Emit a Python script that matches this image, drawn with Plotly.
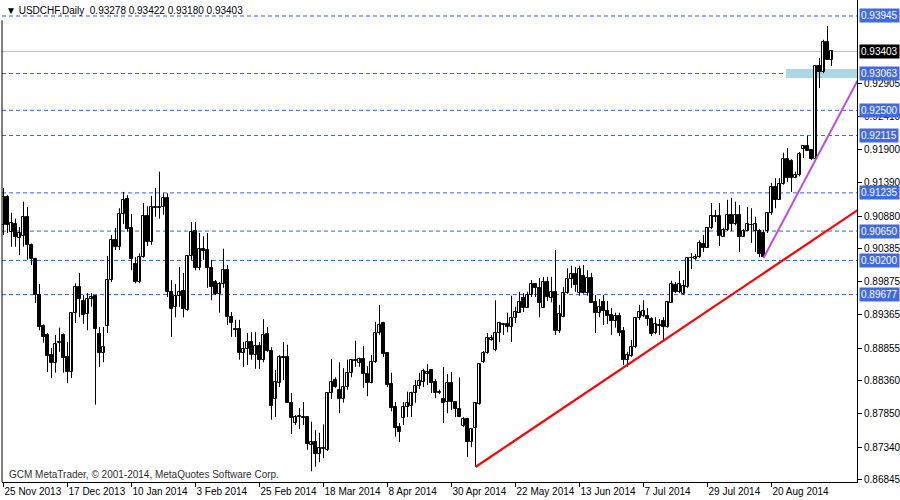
import plotly.graph_objects as go

# ---------------- data (USDCHF daily) ----------------
open_prices = [
 0.9074,0.9117,0.9064,0.9076,0.9054,0.9057,0.9087,0.9044,0.9022,0.8967,
 0.8920,0.8906,0.8875,0.8863,0.8894,0.8906,0.8872,0.8849,0.8939,0.8979,
 0.8958,0.8938,0.8961,0.8966,0.8907,0.8878,0.8920,0.8990,0.9051,0.9041,
 0.9091,0.9114,0.9070,0.9015,0.8987,0.9025,0.9088,0.9048,0.9100,0.9100,
 0.9102,0.9116,0.8972,0.8949,0.8966,0.8973,0.8944,0.9027,0.9065,0.9008,
 0.9038,0.9036,0.9008,0.8987,0.8969,0.8984,0.9005,0.8933,0.8915,0.8915,
 0.8878,0.8884,0.8895,0.8875,0.8889,0.8868,0.8907,0.8881,0.8808,0.8832,
 0.8872,0.8872,0.8802,0.8771,0.8780,0.8780,0.8780,0.8737,0.8742,0.8724,
 0.8733,0.8730,0.8817,0.8837,0.8822,0.8808,0.8826,0.8848,0.8866,0.8863,
 0.8869,0.8846,0.8832,0.8864,0.8909,0.8924,0.8878,0.8831,0.8796,0.8765,
 0.8779,0.8796,0.8797,0.8817,0.8828,0.8834,0.8846,0.8852,0.8834,0.8817,
 0.8808,0.8803,0.8832,0.8803,0.8792,0.8766,0.8777,0.8742,0.8763,0.8800,
 0.8864,0.8878,0.8898,0.8883,0.8909,0.8921,0.8923,0.8918,0.8932,0.8940,
 0.8963,0.8947,0.8967,0.8984,0.8978,0.8947,0.8987,0.8963,0.8972,0.8912,
 0.8933,0.8970,0.8992,0.8999,0.8970,0.8996,0.8970,0.8993,0.8956,0.8940,
 0.8956,0.8943,0.8936,0.8927,0.8935,0.8912,0.8868,0.8874,0.8887,0.8932,
 0.8935,0.8935,0.8930,0.8909,0.8921,0.8927,0.8918,0.8955,0.8982,0.8972,
 0.8969,0.8979,0.9024,0.9022,0.9025,0.9045,0.9039,0.9070,0.9088,0.9088,
 0.9056,0.9067,0.9090,0.9076,0.9090,0.9056,0.9065,0.9074,0.9065,0.9065,
 0.9062,0.9065,0.9093,0.9133,0.9113,0.9137,0.9175,0.9172,0.9146,0.9151,
 0.9191,0.9195,0.9189,0.9175,0.9318,0.9309,0.9355,0.93278]
high_prices = [
 0.9131,0.9120,0.9093,0.9084,0.9071,0.9110,0.9102,0.9046,0.9024,0.8984,
 0.8922,0.8909,0.8886,0.8906,0.8917,0.8908,0.8895,0.8940,0.8985,0.9001,
 0.8967,0.8970,0.8970,0.8967,0.8918,0.8918,0.9027,0.9059,0.9070,0.9100,
 0.9125,0.9120,0.9091,0.9025,0.9031,0.9108,0.9103,0.9119,0.9131,0.9156,
 0.9123,0.9123,0.8990,0.8984,0.9010,0.9001,0.9028,0.9079,0.9079,0.9062,
 0.9057,0.9062,0.9021,0.8990,0.8987,0.9038,0.9013,0.8941,0.8929,0.8929,
 0.8895,0.8909,0.8910,0.8910,0.8895,0.8930,0.8918,0.8887,0.8852,0.8875,
 0.8895,0.8891,0.8817,0.8783,0.8794,0.8803,0.8781,0.8773,0.8760,0.8756,
 0.8769,0.8817,0.8869,0.8841,0.8864,0.8855,0.8868,0.8869,0.8897,0.8871,
 0.8889,0.8858,0.8875,0.8926,0.8952,0.8926,0.8878,0.8848,0.8803,0.8771,
 0.8803,0.8819,0.8819,0.8837,0.8848,0.8854,0.8861,0.8852,0.8838,0.8822,
 0.8857,0.8846,0.8849,0.8803,0.8841,0.8780,0.8779,0.8763,0.8802,0.8863,
 0.8881,0.8909,0.8906,0.8959,0.8926,0.8924,0.8940,0.8966,0.8949,0.8972,
 0.8970,0.8972,0.8990,0.8985,0.8993,0.8995,0.8995,0.8995,0.9036,0.8952,
 0.8979,0.9008,0.9012,0.9010,0.9012,0.9013,0.9005,0.9001,0.8967,0.8961,
 0.8967,0.8958,0.8947,0.8940,0.8940,0.8918,0.8880,0.8898,0.8933,0.8952,
 0.8959,0.8947,0.8933,0.8933,0.8930,0.8933,0.8958,0.8989,0.8987,0.9004,
 0.8990,0.9025,0.9031,0.9030,0.9051,0.9059,0.9071,0.9108,0.9097,0.9108,
 0.9070,0.9113,0.9116,0.9110,0.9105,0.9068,0.9102,0.9100,0.9087,0.9068,
 0.9067,0.9093,0.9139,0.9146,0.9146,0.9185,0.9192,0.9175,0.9156,0.9186,
 0.9197,0.9211,0.9189,0.9319,0.9330,0.9358,0.9379,0.93422]
low_prices = [
 0.9059,0.9062,0.9041,0.9041,0.9028,0.9041,0.9021,0.9013,0.8955,0.8913,
 0.8894,0.8849,0.8840,0.8848,0.8880,0.8848,0.8832,0.8840,0.8924,0.8933,
 0.8923,0.8913,0.8949,0.8799,0.8857,0.8864,0.8909,0.8987,0.9036,0.9036,
 0.9076,0.9064,0.9005,0.8985,0.8985,0.9024,0.9042,0.9044,0.9087,0.9084,
 0.9090,0.8964,0.8903,0.8933,0.8949,0.8933,0.8943,0.9021,0.9005,0.9005,
 0.9021,0.8978,0.8959,0.8967,0.8940,0.8978,0.8921,0.8903,0.8903,0.8868,
 0.8857,0.8860,0.8868,0.8854,0.8854,0.8864,0.8880,0.8776,0.8780,0.8826,
 0.8837,0.8802,0.8754,0.8768,0.8762,0.8768,0.8730,0.8697,0.8704,0.8711,
 0.8717,0.8728,0.8808,0.8825,0.8786,0.8802,0.8822,0.8841,0.8857,0.8857,
 0.8825,0.8812,0.8832,0.8863,0.8906,0.8872,0.8826,0.8789,0.8750,0.8742,
 0.8768,0.8780,0.8780,0.8802,0.8823,0.8826,0.8829,0.8817,0.8809,0.8815,
 0.8771,0.8786,0.8791,0.8780,0.8780,0.8765,0.8719,0.8734,0.8704,0.8799,
 0.8863,0.8877,0.8897,0.8881,0.8895,0.8906,0.8910,0.8895,0.8924,0.8940,
 0.8941,0.8947,0.8964,0.8964,0.8933,0.8947,0.8958,0.8956,0.8906,0.8909,
 0.8933,0.8969,0.8978,0.8972,0.8966,0.8969,0.8966,0.8955,0.8909,0.8933,
 0.8921,0.8923,0.8906,0.8917,0.8904,0.8860,0.8857,0.8872,0.8886,0.8929,
 0.8933,0.8920,0.8904,0.8907,0.8906,0.8898,0.8917,0.8955,0.8970,0.8970,
 0.8967,0.8978,0.9007,0.9021,0.9024,0.9033,0.9039,0.9068,0.9079,0.9042,
 0.9056,0.9065,0.9065,0.9074,0.9033,0.9056,0.9065,0.9047,0.9033,0.9025,
 0.9024,0.9062,0.9090,0.9100,0.9113,0.9136,0.9140,0.9125,0.9146,0.9149,
 0.9177,0.9188,0.9174,0.9174,0.9284,0.9307,0.9327,0.93180]
close_prices = [
 0.9117,0.9074,0.9077,0.9056,0.9062,0.9087,0.9044,0.9022,0.8967,0.8918,
 0.8903,0.8874,0.8863,0.8892,0.8895,0.8871,0.8849,0.8939,0.8979,0.8961,
 0.8936,0.8961,0.8964,0.8915,0.8878,0.8887,0.8990,0.9051,0.9041,0.9091,
 0.9113,0.9068,0.9022,0.8987,0.9025,0.9088,0.9048,0.9102,0.9102,0.9102,
 0.9116,0.8972,0.8946,0.8966,0.8972,0.8946,0.9027,0.9064,0.9008,0.9038,
 0.9035,0.9008,0.8979,0.8969,0.8984,0.9005,0.8933,0.8924,0.8914,0.8878,
 0.8884,0.8895,0.8875,0.8889,0.8868,0.8906,0.8881,0.8797,0.8834,0.8872,
 0.8871,0.8802,0.8779,0.8780,0.8781,0.8779,0.8739,0.8742,0.8724,0.8733,
 0.8731,0.8817,0.8834,0.8826,0.8808,0.8826,0.8848,0.8868,0.8868,0.8869,
 0.8846,0.8832,0.8864,0.8909,0.8921,0.8877,0.8829,0.8794,0.8763,0.8757,
 0.8796,0.8802,0.8817,0.8828,0.8835,0.8851,0.8849,0.8832,0.8817,0.8819,
 0.8802,0.8832,0.8803,0.8792,0.8780,0.8777,0.8742,0.8762,0.8802,0.8861,
 0.8878,0.8901,0.8901,0.8909,0.8924,0.8922,0.8918,0.8932,0.8941,0.8956,
 0.8947,0.8967,0.8984,0.8978,0.8955,0.8987,0.8964,0.8972,0.8912,0.8938,
 0.8970,0.8992,0.8999,0.8982,0.9007,0.8970,0.8993,0.8955,0.8940,0.8949,
 0.8943,0.8935,0.8927,0.8935,0.8909,0.8868,0.8875,0.8887,0.8932,0.8941,
 0.8943,0.8930,0.8907,0.8923,0.8920,0.8918,0.8956,0.8984,0.8972,0.8984,
 0.8981,0.9024,0.9023,0.9025,0.9047,0.9039,0.9070,0.9088,0.9087,0.9057,
 0.9067,0.9090,0.9076,0.9090,0.9056,0.9065,0.9076,0.9075,0.9076,0.9030,
 0.9025,0.9093,0.9133,0.9113,0.9137,0.9175,0.9146,0.9146,0.9151,0.9183,
 0.9195,0.9188,0.9175,0.9318,0.9309,0.9355,0.9327,0.93403]

date_ticks = [0, 16, 32, 48, 64, 80, 96, 112, 128, 144, 160, 176, 192]
date_labels = ["25 Nov 2013", "17 Dec 2013", "10 Jan 2014", "3 Feb 2014",
               "25 Feb 2014", "18 Mar 2014", "8 Apr 2014", "30 Apr 2014",
               "22 May 2014", "13 Jun 2014", "7 Jul 2014", "29 Jul 2014",
               "20 Aug 2014"]
price_ticks = [0.92905, 0.92410, 0.91900, 0.91390, 0.90880, 0.90385, 0.89875,
               0.89365, 0.88855, 0.88360, 0.87850, 0.87340, 0.86845]
level_lines = [0.93945, 0.93063, 0.92500, 0.92115, 0.91235, 0.90650, 0.90200, 0.89677]
bid_price = 0.93403
zone_bar = 196
zone_low, zone_high = 0.92995, 0.93133
red_trend_x = [118, 213.6]
red_trend_y = [0.87036, 0.90975]
purple_trend_x = [190, 213.6]
purple_trend_y = [0.90237, 0.92965]

title_text = "\u25bc USDCHF,Daily  0.93278 0.93422 0.93180 0.93403"
copyright_text = "GCM MetaTrader, \u00a9 2001-2014, MetaQuotes Software Corp."

# ---------------- figure ----------------
n = len(close_prices)
idx = list(range(n))
FONT = "Liberation Sans, DejaVu Sans, Arial, sans-serif"

wx, wy = [], []
for i in idx:
    wx += [i, i, None]
    wy += [low_prices[i], high_prices[i], None]

body_base = [min(o, c) for o, c in zip(open_prices, close_prices)]
body_h = [max(abs(c - o), 0.000025) for o, c in zip(open_prices, close_prices)]
body_fill = ["white" if c >= o else "black" for o, c in zip(open_prices, close_prices)]

fig = go.Figure()
fig.add_trace(go.Scatter(x=wx, y=wy, mode="lines",
                         line=dict(color="black", width=1),
                         hoverinfo="skip", showlegend=False))
fig.add_trace(go.Bar(x=idx, y=body_h, base=body_base, width=0.55,
                     marker=dict(color=body_fill, line=dict(color="black", width=1)),
                     hoverinfo="skip", showlegend=False))
fig.add_trace(go.Scatter(x=red_trend_x, y=red_trend_y, mode="lines",
                         line=dict(color="#ff0000", width=2.2),
                         hoverinfo="skip", showlegend=False))
fig.add_trace(go.Scatter(x=purple_trend_x, y=purple_trend_y, mode="lines",
                         line=dict(color="#b94fdc", width=2),
                         hoverinfo="skip", showlegend=False))

shapes = []
shapes.append(dict(type="rect", xref="x", yref="y", x0=zone_bar - 0.4, x1=214,
                   y0=zone_low, y1=zone_high, fillcolor="#add8e6",
                   line=dict(width=0), layer="below"))
for lv in level_lines:
    shapes.append(dict(type="line", xref="paper", yref="y", x0=0, x1=1,
                       y0=lv, y1=lv, layer="below",
                       line=dict(color="#2f5ff0", width=1, dash="4px,3px")))
shapes.append(dict(type="line", xref="paper", yref="y", x0=0, x1=1,
                   y0=bid_price, y1=bid_price, layer="below",
                   line=dict(color="#b8b8b8", width=1)))
shapes.append(dict(type="line", xref="paper", yref="paper", x0=0, x1=0,
                   y0=0, y1=0.958, line=dict(color="black", width=1)))

annotations = []
for lv in level_lines:
    annotations.append(dict(x=1, xref="paper", y=lv, yref="y", xanchor="left",
                            xshift=2, text=f"{lv:.5f}", showarrow=False,
                            bgcolor="#4169e1", borderpad=1,
                            font=dict(family=FONT, size=10, color="white")))
annotations.append(dict(x=1, xref="paper", y=bid_price, yref="y", xanchor="left",
                        xshift=2, text=f"{bid_price:.5f}", showarrow=False,
                        bgcolor="black", borderpad=1,
                        font=dict(family=FONT, size=10, color="white")))
annotations.append(dict(x=0, xref="paper", y=1, yref="paper", xanchor="left",
                        yanchor="middle", xshift=2, yshift=-10, text=title_text,
                        showarrow=False, font=dict(family=FONT, size=10, color="black")))
annotations.append(dict(x=0, xref="paper", y=0, yref="paper", xanchor="left",
                        yanchor="middle", xshift=5, yshift=8, text=copyright_text,
                        showarrow=False, font=dict(family=FONT, size=10, color="#303030")))

fig.update_layout(
    width=900, height=500,
    margin=dict(l=2, r=43, t=0, b=18, autoexpand=False),
    paper_bgcolor="white", plot_bgcolor="white",
    showlegend=False, bargap=0, hovermode=False,
    shapes=shapes, annotations=annotations,
    xaxis=dict(range=[-0.375, 213.375], tickvals=date_ticks, ticktext=date_labels,
               ticks="outside", ticklen=4, tickcolor="black", tickangle=0,
               ticklabelposition="outside right", automargin=False,
               showline=True, linecolor="black", linewidth=1,
               showgrid=False, zeroline=False,
               tickfont=dict(family=FONT, size=10, color="black")),
    yaxis=dict(side="right", range=[0.86806, 0.94190], tickvals=price_ticks,
               tickformat=".5f", ticks="outside", ticklen=4, tickcolor="black",
               automargin=False,
               showline=True, linecolor="black", linewidth=1,
               showgrid=False, zeroline=False,
               tickfont=dict(family=FONT, size=10, color="black")),
)

fig.write_html("out.html", config={"displayModeBar": False},
               post_script="document.body.style.margin='0';document.body.style.overflow='hidden';")
